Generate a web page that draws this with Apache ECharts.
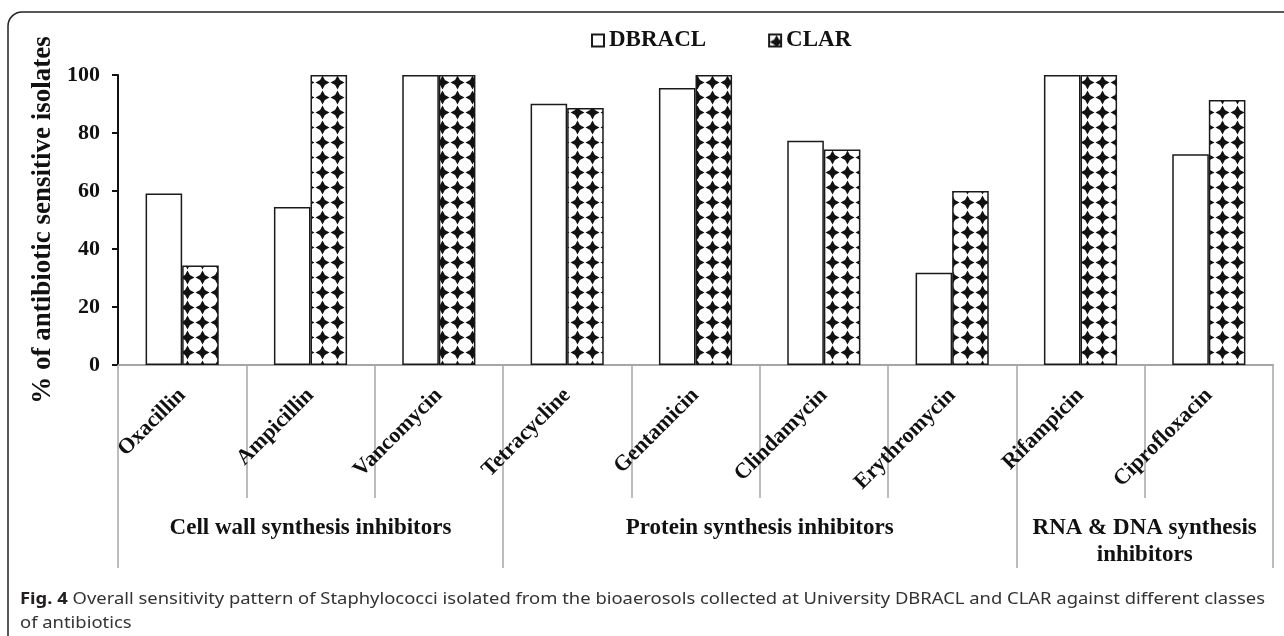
<!DOCTYPE html>
<html>
<head>
<meta charset="utf-8">
<script src="https://cdn.jsdelivr.net/npm/echarts@6/dist/echarts.min.js"></script>
<style>
  html, body { margin: 0; padding: 0; background: #fff; }
  #chart { width: 1284px; height: 636px; }
</style>
</head>
<body>
<div id="chart"></div>
<script>
// Data
const antibiotics = ['Oxacillin', 'Ampicillin', 'Vancomycin', 'Tetracycline', 'Gentamicin',
    'Clindamycin', 'Erythromycin', 'Rifampicin', 'Ciprofloxacin'];
const dbracl = [59.1, 54.5, 100, 90.1, 95.5, 77.3, 31.8, 100, 72.7];
const clar = [34.3, 100, 100, 88.6, 100, 74.3, 60.0, 100, 91.4];
const groupNames = ['Cell wall synthesis inhibitors', 'Protein synthesis inhibitors', 'RNA & DNA synthesis\ninhibitors'];
const groupBounds = [0, 3, 7, 9];   // category index where each class starts / ends

const captionLine1 = 'Overall sensitivity pattern of Staphylococci isolated from the bioaerosols collected at University DBRACL and CLAR against different classes';
const captionLine2 = 'of antibiotics';

const serif = '"Liberation Serif", "Times New Roman", serif';
const sans = '"Noto Sans", "Open Sans", sans-serif';

// group label positions = middle of each class span
const groupCenters = groupNames.map((n, i) => (groupBounds[i] + groupBounds[i + 1]) / 2);

// black four-point stars on white for the CLAR bars
function starTile() {
    const c = document.createElement('canvas');
    c.width = 15; c.height = 15;
    const g = c.getContext('2d');
    g.fillStyle = '#fff';
    g.fillRect(0, 0, 15, 15);
    g.fillStyle = '#111';
    g.beginPath();
    for (let k = 0; k < 8; k++) {
        const a = k * Math.PI / 4;
        const r = k % 2 === 0 ? 7.0 : 3.4;
        const px = 7.5 + r * Math.sin(a), py = 7.5 - r * Math.cos(a);
        k === 0 ? g.moveTo(px, py) : g.lineTo(px, py);
    }
    g.closePath();
    g.fill();
    return c;
}

// caption is set in a condensed face in the figure, squeeze a normal one to fit
function captionScale() {
    const ctx = document.createElement('canvas').getContext('2d');
    ctx.font = 'bold 16px ' + sans;
    let w = ctx.measureText('Fig. 4').width;
    ctx.font = '16px ' + sans;
    w += ctx.measureText(' ' + captionLine1).width;
    return 1245 / w;
}

const chart = echarts.init(document.getElementById('chart'));
const sx = captionScale();

const option = {
    animation: false,
    backgroundColor: '#fff',
    grid: { left: 118, right: 11, top: 75, bottom: 271, containLabel: false },
    legend: {
        data: ['DBRACL', 'CLAR'],
        left: 586,
        top: 24,
        icon: 'rect',
        itemWidth: 12,
        itemHeight: 12,
        itemGap: 62,
        textStyle: { fontFamily: serif, fontWeight: 'bold', fontSize: 23, color: '#111' }
    },
    xAxis: [
        {
            type: 'category',
            data: antibiotics,
            boundaryGap: true,
            axisLine: { lineStyle: { color: '#a6a6a6', width: 2 } },
            axisTick: { show: true, interval: 0, length: 133, lineStyle: { color: '#a6a6a6', width: 1.5 } },
            axisLabel: {
                interval: 0, rotate: 45, margin: 27,
                fontFamily: serif, fontWeight: 'bold', fontSize: 22, color: '#111'
            },
            splitLine: { show: false }
        },
        {
            type: 'value',
            position: 'bottom',
            min: 0,
            max: antibiotics.length,
            axisLine: { show: false, onZero: false },
            axisTick: { show: true, customValues: groupBounds, length: 203, lineStyle: { color: '#a6a6a6', width: 1.5 } },
            axisLabel: {
                customValues: groupCenters,
                formatter: v => groupNames[groupCenters.indexOf(v)] || '',
                margin: 150,
                lineHeight: 27,
                fontFamily: serif, fontWeight: 'bold', fontSize: 23, color: '#111'
            },
            splitLine: { show: false }
        }
    ],
    yAxis: {
        type: 'value',
        min: 0,
        max: 100,
        interval: 20,
        name: '% of antibiotic sensitive isolates',
        nameLocation: 'middle',
        nameRotate: 90,
        nameGap: 40,
        nameTextStyle: { fontFamily: serif, fontWeight: 'bold', fontSize: 27, color: '#111' },
        axisLine: { show: true, lineStyle: { color: '#111', width: 2 } },
        axisTick: { show: true, length: 6, lineStyle: { color: '#111', width: 2 } },
        axisLabel: { margin: 18, fontFamily: serif, fontWeight: 'bold', fontSize: 22, color: '#111' },
        splitLine: { show: false }
    },
    series: [
        {
            name: 'DBRACL',
            type: 'bar',
            data: dbracl,
            barGap: '0%',
            barCategoryGap: '43%',
            itemStyle: { color: '#fff', borderColor: '#1a1a1a', borderWidth: 1.5 }
        },
        {
            name: 'CLAR',
            type: 'bar',
            data: clar,
            barGap: '0%',
            barCategoryGap: '43%',
            itemStyle: {
                color: { image: starTile(), repeat: 'repeat' },
                borderColor: '#1a1a1a',
                borderWidth: 1.5
            }
        }
    ],
    graphic: [
        {
            type: 'rect',
            shape: { x: 8, y: 12, width: 1320, height: 680, r: 14 },
            style: { fill: 'none', stroke: '#222', lineWidth: 1.5 },
            silent: true
        },
        {
            type: 'text',
            x: 20, y: 599, scaleX: sx,
            style: {
                text: '{b|Fig. 4} ' + captionLine1,
                font: '16px ' + sans,
                fill: '#333',
                verticalAlign: 'middle',
                rich: { b: { fontFamily: sans, fontWeight: 'bold', fontSize: 16, fill: '#231f20' } }
            }
        },
        {
            type: 'text',
            x: 20, y: 623, scaleX: sx,
            style: { text: captionLine2, font: '16px ' + sans, fill: '#333', verticalAlign: 'middle' }
        }
    ]
};

chart.setOption(option);
</script>
</body>
</html>
